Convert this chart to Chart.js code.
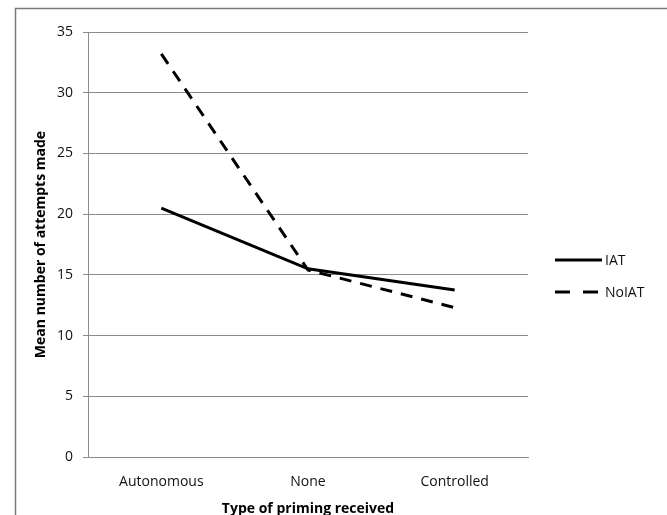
<!DOCTYPE html>
<html>
<head>
<meta charset="utf-8">
<script src="https://cdn.jsdelivr.net/npm/chart.js@4/dist/chart.umd.min.js"></script>
<style>
  html, body { margin: 0; padding: 0; background: #fff; }
  #wrap { width: 667px; height: 515px; }
</style>
</head>
<body>
<div id="wrap"><canvas id="chart" width="667" height="515"></canvas></div>
<script>
// values
var categories = ['Autonomous', 'None', 'Controlled'];
var iatValues = [20.5, 15.5, 13.75];
var noIatValues = [33.2, 15.4, 12.3];
var yTicks = [0, 5, 10, 15, 20, 25, 30, 35];

var FONT = "'Open Sans', sans-serif";
var GRID = '#8c8c8c';

// border round the picture plus the line legend on the right
var framePlugin = {
    id: 'frame',
    afterDraw: function(chart) {
        var ctx = chart.ctx;
        ctx.save();
        ctx.strokeStyle = '#7a7a7a';
        ctx.lineWidth = 1.5;
        ctx.beginPath();
        ctx.moveTo(15.5, 520);
        ctx.lineTo(15.5, 8.5);
        ctx.lineTo(670, 8.5);
        ctx.stroke();

        var items = chart.data.datasets;
        var y0 = 260, gap = 32;
        items.forEach(function(ds, i) {
            var y = y0 + i * gap;
            ctx.strokeStyle = '#000';
            ctx.lineWidth = 3;
            ctx.setLineDash(ds.borderDash && ds.borderDash.length ? [15, 13] : []);
            ctx.beginPath();
            ctx.moveTo(555, y);
            ctx.lineTo(602, y);
            ctx.stroke();
            ctx.setLineDash([]);
            ctx.fillStyle = '#111';
            ctx.font = '14px ' + FONT;
            ctx.textBaseline = 'middle';
            ctx.textAlign = 'left';
            ctx.fillText(ds.label, 605, y + 1);
        });
        ctx.restore();
    }
};

var config = {
    type: 'line',
    data: {
        labels: categories,
        datasets: [{
            label: 'IAT',
            data: iatValues,
            borderColor: '#000',
            borderWidth: 3,
            pointRadius: 0,
            fill: false,
            tension: 0
        }, {
            label: 'NoIAT',
            data: noIatValues,
            borderColor: '#000',
            borderWidth: 3,
            borderDash: [12, 9],
            pointRadius: 0,
            fill: false,
            tension: 0
        }]
    },
    options: {
        responsive: false,
        animation: false,
        layout: {
            padding: { left: 16, right: 139, top: 32, bottom: 0 }
        },
        plugins: {
            legend: { display: false },
            tooltip: { enabled: false }
        },
        scales: {
            x: {
                offset: true,
                grid: { display: false, drawTicks: false },
                border: { display: true, color: GRID, width: 1 },
                ticks: {
                    padding: 17,
                    color: '#111',
                    font: { family: FONT, size: 14 }
                },
                title: {
                    display: true,
                    text: 'Type of priming received',
                    color: '#000',
                    padding: { top: 0, bottom: -2 },
                    font: { family: FONT, size: 14, weight: 'bold' }
                },
                afterFit: function(scale) { scale.height = 58; }
            },
            y: {
                min: 0,
                max: 35,
                afterBuildTicks: function(scale) {
                    scale.ticks = yTicks.map(function(v) { return { value: v }; });
                },
                grid: { color: GRID, lineWidth: 1, tickLength: 5 },
                border: { display: true, color: GRID, width: 1 },
                ticks: {
                    padding: 10,
                    color: '#111',
                    font: { family: FONT, size: 14 }
                },
                title: {
                    display: true,
                    text: 'Mean number of attempts made',
                    color: '#000',
                    padding: { top: 17, bottom: 0 },
                    font: { family: FONT, size: 14, weight: 'bold' }
                },
                afterFit: function(scale) { scale.width = 72; }
            }
        }
    },
    plugins: [framePlugin]
};

window.onload = function() {
    var ctx = document.getElementById('chart').getContext('2d');
    window.myChart = new Chart(ctx, config);
};
</script>
</body>
</html>
